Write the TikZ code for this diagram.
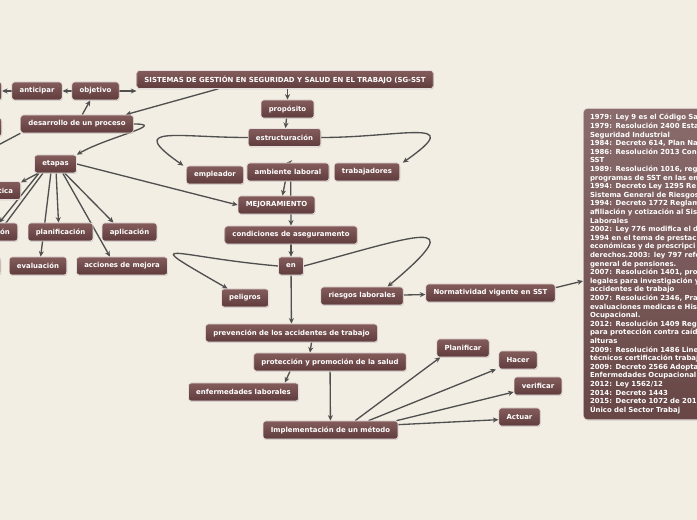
\documentclass[tikz,border=0pt]{standalone}
\usepackage{fontspec}
\setmainfont{DejaVu Sans}
\usetikzlibrary{arrows.meta,shadows}

\definecolor{paper}{RGB}{243,238,227}
\definecolor{boxtop}{RGB}{132,92,92}
\definecolor{boxbot}{RGB}{96,60,60}
\definecolor{listtop}{RGB}{138,108,108}
\definecolor{listbot}{RGB}{104,70,70}
\definecolor{wire}{RGB}{80,80,80}

\pgfdeclarelayer{canvas}
\pgfdeclarelayer{wires}
\pgfsetlayers{canvas,wires,main}

\tikzset{
  tema/.style={rounded corners=2pt, draw=white!80!boxtop, line width=0.5pt,
    top color=boxtop, bottom color=boxbot, text=white,
    font=\bfseries\fontsize{5.2}{6}\selectfont,
    minimum height=13.5pt, inner xsep=5.8pt, inner ysep=0pt,
    drop shadow={shadow xshift=0.4pt, shadow yshift=-0.7pt, opacity=0.3}},
  cronologia/.style={tema, top color=listtop, bottom color=listbot,
    rounded corners=3pt, anchor=north west, align=left, text width=130pt,
    font=\bfseries\fontsize{5.2}{6.45}\selectfont, inner xsep=5pt, inner ysep=4.5pt},
  flecha/.style={draw=wire, line width=1pt, -{Stealth[length=4.2pt,width=3.8pt]}},
  linea/.style={draw=wire, line width=1pt},
}

\begin{document}
\begin{tikzpicture}[x=0.75pt,y=0.75pt]
\begin{pgfonlayer}{canvas}
  \fill[paper] (0,0) rectangle (697,-520);
\end{pgfonlayer}
\useasboundingbox (0,0) rectangle (697,-520);

% centro
\node[tema] (sg) at (285,-79.5) {SISTEMAS DE GESTIÓN EN SEGURIDAD Y SALUD EN EL TRABAJO (SG-SST};
\node[tema] (prop) at (287.5,-109) {propósito};
\node[tema] (estr) at (284.5,-137.5) {estructuración};
\node[tema] (empl) at (215,-175) {empleador};
\node[tema] (amb) at (288,-172) {ambiente laboral};
\node[tema] (trab) at (367,-172) {trabajadores};
\node[tema] (mej) at (276.5,-205) {MEJORAMIENTO};
\node[tema] (cond) at (291,-235) {condiciones de aseguramento};
\node[tema] (en) at (291,-266) {en};
\node[tema] (pel) at (245,-298) {peligros};
\node[tema] (ries) at (362,-296) {riesgos laborales};
\node[tema] (norm) at (490.5,-293) {Normatividad vigente en SST};
\node[tema] (prev) at (291.5,-333) {prevención de los accidentes de trabajo};
\node[tema] (prot) at (330,-362) {protección y promoción de la salud};
\node[tema] (enf) at (243.5,-392) {enfermedades laborales};
\node[tema] (impl) at (330.5,-430) {Implementación de un método};
\node[tema] (planif) at (463,-348) {Planificar};
\node[tema] (hacer) at (518,-360) {Hacer};
\node[tema] (verif) at (538,-386) {verificar};
\node[tema] (actuar) at (519.5,-417) {Actuar};

% lado izquierdo
\node[tema] (antic) at (37,-91) {anticipar};
\node[tema] (obj) at (95.5,-91) {objetivo};
\node[tema] (des) at (77,-124) {desarrollo de un proceso};
\node[tema] (etapas) at (55.5,-164) {etapas};
\node[tema, anchor=east] (tica) at (21,-190.5) {tica};
\node[tema, anchor=east] (ion) at (18,-232) {ión};
\node[tema] (plan) at (60.5,-232) {planificación};
\node[tema] (apl) at (129.5,-232) {aplicación};
\node[tema] (eval) at (38,-266) {evaluación};
\node[tema] (acc) at (122,-266) {acciones de mejora};
\node[tema, minimum width=40pt, anchor=east] (izq1) at (2,-91) {};
\node[tema, minimum width=40pt, anchor=east] (izq2) at (2,-127) {};
\node[tema, minimum width=40pt, anchor=east] (izq3) at (1,-266) {};
\coordinate (izq4) at (-30,-160);

% normatividad
\node[cronologia] (lista) at (583,-108) {1979: Ley 9 es el Código Sa\\
1979: Resolución 2400 Esta\\
Seguridad Industrial\\
1984: Decreto 614, Plan Na\\
1986: Resolución 2013 Con\\
SST\\
1989: Resolución 1016, reg\\
programas de SST en las em\\
1994: Decreto Ley 1295 Re\\
Sistema General de Riesgos\\
1994: Decreto 1772 Reglam\\
afiliación y cotización al Sis\\
Laborales\\
2002: Ley 776 modifica el d\\
1994 en el tema de prestac\\
económicas y de prescripci\\
derechos.2003: ley 797 refo\\
general de pensiones.\\
2007: Resolución 1401, pro\\
legales para investigación y\\
accidentes de trabajo\\
2007: Resolución 2346, Pra\\
evaluaciones medicas e His\\
Ocupacional.\\
2012: Resolución 1409 Reg\\
para protección contra caíd\\
alturas\\
2009: Resolución 1486 Line\\
técnicos certificación trabaj\\
2009: Decreto 2566 Adopta\\
Enfermedades Ocupacional\\
2012: Ley 1562/12\\
2014: Decreto 1443\\
2015: Decreto 1072 de 201\\
Único del Sector Trabaj};

\begin{pgfonlayer}{wires}
  \draw[flecha] (prop.north |- sg.south) -- (prop.north);
  \draw[flecha] (obj.east) -- (sg.west |- obj.east);
  \draw[flecha] (obj.west) -- (antic.east);
  \draw[flecha] (antic.west) -- (izq1.east);
  \draw[flecha] (des) -- (obj);
  \draw[flecha] ([xshift=-50]sg.south) -- ([xshift=-6]des.north east);
  \draw[linea] (des.south west) -- (izq4);
  \draw[flecha] (des.east) to[out=0,in=30,looseness=1.4] (etapas.north east);
  \draw[flecha] (prop) -- (estr);
  \draw[flecha] (estr.west) to[out=180,in=145,looseness=2.6] ([xshift=-2]empl.north west);
  \draw[flecha] (estr.east) to[out=0,in=35,looseness=2.4] ([xshift=2]trab.north east);
  \draw[flecha] (amb.north -| estr.south) ++(2.5,0) -- ([xshift=-1]amb.north);
  \draw[flecha] ([xshift=-2]amb.south) -- ([xshift=4.5]mej.north);
  \draw[flecha] ([xshift=2]amb.south) -- (cond.north);
  \draw[flecha] (etapas.east) -- (mej.west);
  \draw[flecha] (cond) -- (en);
  \draw[flecha] (en.west) to[out=175,in=150,looseness=5] ([xshift=-13]pel.north);
  \draw[flecha] (en.east) to[out=15,in=40,looseness=3.4] ([xshift=-12]ries.north east);
  \draw[flecha] (ries) -- (norm);
  \draw[flecha] ([yshift=4]norm.east) -- (lista.west |- 0,-281);
  \draw[flecha] (en) -- (prev);
  \draw[flecha] ([xshift=15]prev.south) -- ([xshift=-15]prot.north);
  \draw[flecha] ([xshift=-30]prot.south) -- ([xshift=31]enf.north);
  \draw[flecha] (prot) -- (impl);
  \draw[flecha] ([xshift=18.5]impl.north) -- ([xshift=-17]planif.south);
  \draw[flecha] ([xshift=28.5]impl.north) -- ([xshift=-2]hacer.south west);
  \draw[flecha] ([xshift=49.5]impl.north) -- ([yshift=-4.5]verif.west);
  \draw[flecha] ([yshift=4]impl.east) -- ([yshift=-2]actuar.west);
  % etapas
  \draw[flecha] (etapas) -- (tica);
  \draw[flecha] ([xshift=-12.5]etapas.south) -- ([xshift=-14]ion.north east);
  \draw[linea] ([xshift=-9.5]etapas.south) -- (izq3);
  \draw[flecha] ([xshift=-3.5]etapas.south) -- ([xshift=2]eval.north);
  \draw[flecha] ([xshift=0.5]etapas.south) -- ([xshift=-1.5]plan.north);
  \draw[flecha] ([xshift=7]etapas.south) -- ([xshift=-12]apl.north);
  \draw[flecha] ([xshift=5.5]etapas.south) -- ([xshift=-9]acc.north);
\end{pgfonlayer}
\end{tikzpicture}
\end{document}
